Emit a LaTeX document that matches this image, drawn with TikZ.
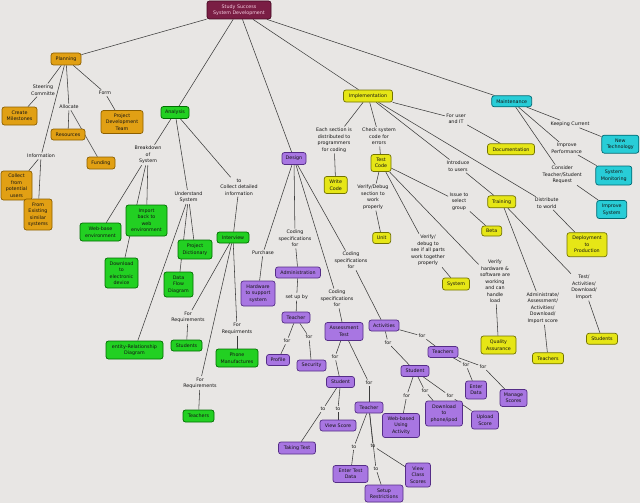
\documentclass[tikz,border=0pt]{standalone}
\usepackage{fontspec}
\setmainfont{DejaVu Sans}
\usetikzlibrary{backgrounds}
\newcommand\myfs{\fontsize{4.8}{6.5}\selectfont}
\definecolor{bgc}{RGB}{232,230,228}
\definecolor{lnc}{RGB}{60,60,60}
\definecolor{txc}{RGB}{20,20,20}
\definecolor{rootF}{RGB}{122,30,68}
\definecolor{rootD}{RGB}{70,10,35}
\definecolor{rootT}{RGB}{245,205,225}
\definecolor{planF}{RGB}{225,160,20}
\definecolor{planD}{RGB}{140,95,0}
\definecolor{anaF}{RGB}{34,208,34}
\definecolor{anaD}{RGB}{0,110,0}
\definecolor{desF}{RGB}{168,118,226}
\definecolor{desD}{RGB}{85,45,135}
\definecolor{impF}{RGB}{230,230,22}
\definecolor{impD}{RGB}{115,115,0}
\definecolor{mntF}{RGB}{40,205,215}
\definecolor{mntD}{RGB}{0,105,115}
\tikzset{
  base/.style={rounded corners=2.5pt, draw, line width=0.7pt, align=center,
    inner xsep=2pt, inner ysep=1.5pt, font=\myfs, text=txc},
  wh/.style 2 args={minimum width=#1pt, minimum height=#2pt},
  rootn/.style={base, fill=rootF, draw=rootD, text=rootT},
  pl/.style={base, fill=planF, draw=planD},
  an/.style={base, fill=anaF, draw=anaD},
  de/.style={base, fill=desF, draw=desD},
  im/.style={base, fill=impF, draw=impD},
  mn/.style={base, fill=mntF, draw=mntD},
  lab/.style={align=center, inner sep=1.3pt, font=\myfs, text=txc},
  conn/.style={draw=lnc, line width=0.55pt},
}
\begin{document}
\begin{tikzpicture}[x=1pt,y=-1pt]
\useasboundingbox (0,0) rectangle (640,503);
% ---------- concepts ----------
\node[rootn,wh={64}{18}] (root) at (239,10) {Study Success\\System Development};
% Planning
\node[pl,wh={30}{12}] (plan) at (66,59) {Planning};
\node[pl,wh={35}{18}] (milest) at (19.5,116) {Create\\Milestones};
\node[pl,wh={34}{11}] (res) at (68,134.5) {Resources};
\node[pl,wh={42}{23}] (pdt) at (122,122) {Project\\Development\\Team};
\node[pl,wh={28}{12}] (fund) at (101,163) {Funding};
\node[pl,wh={31}{29}] (collect) at (16.5,185.5) {Collect\\from\\potential\\users};
\node[pl,wh={28}{31}] (exist) at (38,214.5) {From\\Existing\\similar\\systems};
% Analysis
\node[an,wh={28}{12}] (ana) at (175,112.5) {Analysis};
\node[an,wh={41}{18}] (web) at (100.5,232) {Web-base\\environment};
\node[an,wh={41}{31}] (imp) at (146.5,220.5) {Import\\back to\\web\\environment};
\node[an,wh={33}{30}] (dld) at (121.5,273) {Download\\to\\electronic\\device};
\node[an,wh={34}{19}] (pdict) at (195,249.5) {Project\\Dictionary};
\node[an,wh={29}{25}] (dfd) at (178.5,284.5) {Data\\Flow\\Diagram};
\node[an,wh={57}{18}] (erd) at (134.5,350) {entity-Relationship\\Diagram};
\node[an,wh={32}{11}] (intv) at (233,237.5) {Interview};
\node[an,wh={31}{11}] (stud) at (186.5,345.5) {Students};
\node[an,wh={42}{18}] (phone) at (237,358) {Phone\\Manufactures};
\node[an,wh={31}{12}] (teachg) at (198.5,416) {Teachers};
% Design
\node[de,wh={24}{12}] (des) at (294,158.5) {Design};
\node[de,wh={34}{25}] (hw) at (258,293.5) {Hardware\\to support\\system};
\node[de,wh={45}{11}] (adm) at (298,272.5) {Administration};
\node[de,wh={28}{11}] (dteach) at (296,317.5) {Teacher};
\node[de,wh={23}{11}] (prof) at (278,360) {Profile};
\node[de,wh={29}{11}] (sec) at (311.5,365.5) {Security};
\node[de,wh={38}{18}] (asst) at (344,331.5) {Assessment\\Test};
\node[de,wh={30}{11}] (act) at (384,325.5) {Activities};
\node[de,wh={28}{11}] (astud) at (340.5,382) {Student};
\node[de,wh={28}{11}] (ateach) at (369,407.5) {Teacher};
\node[de,wh={37}{12}] (take) at (297,448) {Taking Test};
\node[de,wh={36}{11}] (vscore) at (338,425.5) {View Score};
\node[de,wh={35}{17}] (etd) at (350.5,474) {Enter Test\\Data};
\node[de,wh={38}{17}] (setr) at (384,493.5) {Setup\\Restrictions};
\node[de,wh={25}{24}] (vcs) at (418,475) {View\\Class\\Scores};
\node[de,wh={30}{11}] (pteach) at (443,352) {Teachers};
\node[de,wh={28}{11}] (pstud) at (415,371) {Student};
\node[de,wh={21}{18}] (edata) at (476,390) {Enter\\Data};
\node[de,wh={27}{17}] (mscores) at (513.5,398) {Manage\\Scores};
\node[de,wh={37}{24}] (webact) at (401,425.5) {Web-based\\Using\\Activity};
\node[de,wh={37}{25}] (dphone) at (444,413.5) {Download\\to\\phone/ipod};
\node[de,wh={27}{18}] (upl) at (485,420) {Upload\\Score};
% Implementation
\node[im,wh={49}{12}] (impl) at (368,96) {Implementation};
\node[im,wh={23}{17}] (write) at (335.7,185) {Write\\Code};
\node[im,wh={20}{17}] (test) at (381,163) {Test\\Code};
\node[im,wh={18}{11}] (unit) at (381.7,238) {Unit};
\node[im,wh={27}{12}] (sys) at (456,284) {System};
\node[im,wh={35}{18}] (qa) at (498.5,345) {Quality\\Assurance};
\node[im,wh={47}{11}] (doc) at (511,149.3) {Documentation};
\node[im,wh={28}{12}] (train) at (501.7,201.8) {Training};
\node[im,wh={20}{10}] (beta) at (491.7,231) {Beta};
\node[im,wh={40}{24}] (deploy) at (587,244.7) {Deployment\\to\\Production};
\node[im,wh={31}{11}] (yteach) at (548,358.3) {Teachers};
\node[im,wh={31}{11}] (ystud) at (602,338.8) {Students};
% Maintenance
\node[mn,wh={40}{11}] (maint) at (511.7,101.3) {Maintenance};
\node[mn,wh={37}{18}] (newt) at (620.3,144.2) {New\\Technology};
\node[mn,wh={36}{19}] (sysmon) at (613.8,175.5) {System\\Monitoring};
\node[mn,wh={30}{18}] (impsys) at (611.7,209.5) {Improve\\System};
% ---------- linking phrases ----------
\node[lab] (steer) at (43,90) {Steering\\Committe};
\node[lab] (alloc) at (69,107) {Allocate};
\node[lab] (form) at (105,93) {Form};
\node[lab] (info) at (41,156) {Information};
\node[lab] (brk) at (148,155) {Breakdown\\of\\System};
\node[lab] (und) at (188.5,197) {Understand\\System};
\node[lab] (tocol) at (239,187) {to\\Collect detailed\\information};
\node[lab] (req1) at (188,317) {For\\Requirements};
\node[lab] (req2) at (237,328.5) {For\\Requirments};
\node[lab] (req3) at (200,383) {For\\Requirements};
\node[lab] (purch) at (263,253) {Purchase};
\node[lab] (cs1) at (295,238.5) {Coding\\specifications\\for};
\node[lab] (cs2) at (337,298.5) {Coding\\specifications\\for};
\node[lab] (cs3) at (351,260.5) {Coding\\specifications\\for};
\node[lab] (setup) at (296.7,296.7) {set up by};
\node[lab] (for1) at (287,341) {for};
\node[lab] (for2) at (309,337) {for};
\node[lab] (for3) at (335,357) {for};
\node[lab] (for4) at (369,383) {for};
\node[lab] (to1) at (323,409) {to};
\node[lab] (to2) at (338,409) {to};
\node[lab] (to3) at (354,446.7) {to};
\node[lab] (to4) at (373,446) {to};
\node[lab] (to5) at (376,469) {to};
\node[lab] (for5) at (422,336) {for};
\node[lab] (for6) at (388,342.7) {for};
\node[lab] (for7) at (466,365) {for};
\node[lab] (for8) at (483,366.7) {for};
\node[lab] (for9) at (406.7,395.7) {for};
\node[lab] (for10) at (425,391) {for};
\node[lab] (for11) at (450,396) {for};
\node[lab] (each) at (334,140) {Each section is\\distributed to\\programmers\\for coding};
\node[lab] (check) at (379,136.7) {Check system\\code for\\errors};
\node[lab] (vd1) at (373,197) {Verify/Debug\\section to\\work\\properly};
\node[lab] (vd2) at (428,250.5) {Verify/\\debug to\\see if all parts\\work together\\properly};
\node[lab] (vd3) at (495,281.5) {Verify\\hardware \&\\software are\\working\\and can\\handle\\load};
\node[lab] (issue) at (459,201.7) {Issue to\\select\\group};
\node[lab] (foruser) at (456,118.7) {For user\\and IT};
\node[lab] (intro) at (458,166.2) {Introduce\\to users};
\node[lab] (distr) at (546.7,203.3) {Distribute\\to world};
\node[lab] (admin) at (542.7,308) {Administrate/\\Assessment/\\Activities/\\Download/\\Import score};
\node[lab] (testact) at (584,287.2) {Test/\\Activities/\\Download/\\Import};
\node[lab] (keep) at (570,124) {Keeping Current};
\node[lab] (impperf) at (566.7,148.5) {Improve\\Performance};
\node[lab] (consider) at (562.3,175) {Consider\\Teacher/Student\\Request};
% ---------- connectors ----------
\begin{scope}[on background layer]
\fill[bgc] (0,0) rectangle (640,503);
\begin{scope}[every path/.style={conn}]
% planning
\draw (root) -- (plan);
\draw (plan) -- (steer); \draw (steer) -- (milest);
\draw (plan) -- (alloc); \draw (alloc) -- (res); \draw (alloc) -- (fund);
\draw (plan) -- (form); \draw (form) -- (pdt);
\draw (plan) -- (info); \draw (info) -- (collect); \draw (info) -- (exist);
% analysis
\draw (root) -- (ana);
\draw (ana) -- (brk); \draw (ana) -- (und); \draw (ana) -- (tocol);
\draw (brk) -- (web); \draw (brk) -- (imp); \draw (brk) -- (dld);
\draw (und) -- (pdict); \draw (und) -- (dfd); \draw (und) -- (erd);
\draw (tocol) -- (intv);
\draw (intv) -- (req1); \draw (intv) -- (req2); \draw (intv) -- (req3);
\draw (req1) -- (stud); \draw (req2) -- (phone); \draw (req3) -- (teachg);
% design
\draw (root) -- (des);
\draw (des) -- (purch); \draw (purch) -- (hw);
\draw (des) -- (cs1); \draw (cs1) -- (adm); \draw (adm) -- (setup); \draw (setup) -- (dteach);
\draw (dteach) -- (for1); \draw (for1) -- (prof);
\draw (dteach) -- (for2); \draw (for2) -- (sec);
\draw (des) -- (cs2); \draw (cs2) -- (asst);
\draw (asst) -- (for3); \draw (for3) -- (astud);
\draw (asst) -- (for4); \draw (for4) -- (ateach);
\draw (astud) -- (to1); \draw (to1) -- (take);
\draw (astud) -- (to2); \draw (to2) -- (vscore);
\draw (ateach) -- (to3); \draw (to3) -- (etd);
\draw (ateach) -- (to4); \draw (to4) -- (vcs);
\draw (ateach) -- (to5); \draw (to5) -- (setr);
\draw (des) -- (cs3); \draw (cs3) -- (act);
\draw (act) -- (for5); \draw (for5) -- (pteach);
\draw (act) -- (for6); \draw (for6) -- (pstud);
\draw (pteach) -- (for7); \draw (for7) -- (edata);
\draw (pteach) -- (for8); \draw (for8) -- (mscores);
\draw (pstud) -- (for9); \draw (for9) -- (webact);
\draw (pstud) -- (for10); \draw (for10) -- (dphone);
\draw (pstud) -- (for11); \draw (for11) -- (upl);
% implementation
\draw (root) -- (impl);
\draw (impl) -- (each); \draw (each) -- (write);
\draw (impl) -- (check); \draw (check) -- (test);
\draw (test) -- (vd1); \draw (vd1) -- (unit);
\draw (test) -- (vd2); \draw (vd2) -- (sys);
\draw (test) -- (vd3); \draw (vd3) -- (qa);
\draw (test) -- (issue); \draw (issue) -- (beta);
\draw (impl) -- (foruser); \draw (foruser) -- (doc);
\draw (impl) -- (intro); \draw (intro) -- (train);
\draw (impl) -- (distr); \draw (distr) -- (deploy);
\draw (train) -- (admin); \draw (admin) -- (yteach);
\draw (train) -- (testact); \draw (testact) -- (ystud);
% maintenance
\draw (root) -- (maint);
\draw (maint) -- (keep); \draw (keep) -- (newt);
\draw (maint) -- (impperf); \draw (impperf) -- (sysmon);
\draw (maint) -- (consider); \draw (consider) -- (impsys);
\end{scope}
\end{scope}
\end{tikzpicture}
\end{document}
